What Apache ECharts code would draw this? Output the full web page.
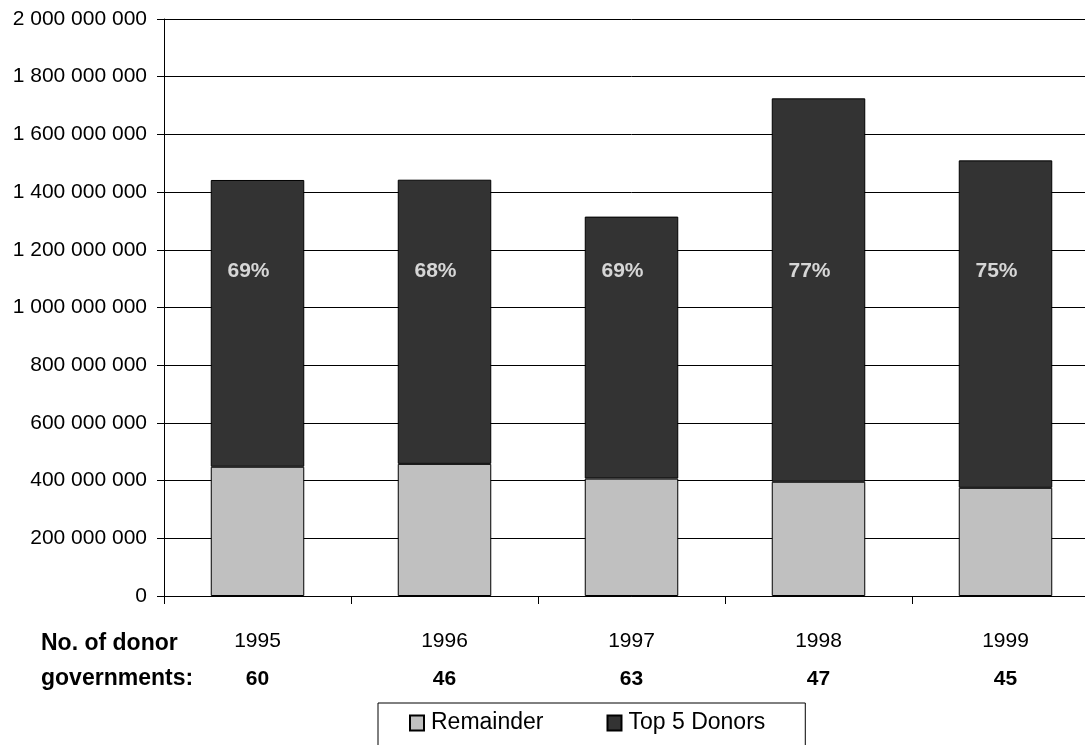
<!DOCTYPE html>
<html>
<head>
<meta charset="utf-8">
<script src="https://cdn.jsdelivr.net/npm/echarts@6/dist/echarts.min.js"></script>
<style>
  html, body { margin: 0; padding: 0; background: #fff; overflow: hidden; }
  /* the canvas is a bit wider than the page so the last category runs past the edge */
  #chart { width: 1099px; height: 745px; }
</style>
</head>
<body>
<div id="chart"></div>
<script>
// Contributions by year, split into the five largest donors and the rest
const years = ['1995', '1996', '1997', '1998', '1999'];
const donorCounts = [60, 46, 63, 47, 45];
const remainder = [448000000, 458000000, 407000000, 396000000, 375000000];
const top5 = [994000000, 985000000, 908000000, 1329000000, 1135000000];
const yTicks = { min: 0, max: 2000000000, interval: 200000000 };
const pctLabelLevel = 1127000000;

const FONT = '"Liberation Sans", Arial, sans-serif';

// share of the top five donors in each year's total
const shares = years.map((_, i) => Math.round(top5[i] / (top5[i] + remainder[i]) * 100) + '%');

function spaced(v) {
  return String(v).replace(/\B(?=(\d{3})+(?!\d))/g, ' ');
}

const chart = echarts.init(document.getElementById('chart'), null, { renderer: 'canvas' });

chart.setOption({
  animation: false,
  backgroundColor: '#ffffff',
  textStyle: { fontFamily: FONT },
  grid: { left: 164, top: 19, bottom: 149, right: 0, containLabel: false },
  legend: {
    data: ['Remainder', 'Top 5 Donors'],
    left: 378, top: 703,
    orient: 'horizontal',
    icon: 'rect',
    itemWidth: 14, itemHeight: 15, itemGap: 63,
    padding: [7, 40, 10, 31],
    borderColor: '#000', borderWidth: 1,
    textStyle: { fontFamily: FONT, fontSize: 23, lineHeight: 26, color: '#000', padding: [0, 0, 0, 2] }
  },
  xAxis: {
    type: 'category',
    data: years,
    boundaryGap: true,
    axisLine: { lineStyle: { color: '#000', width: 1 } },
    axisTick: { show: true, length: 8, lineStyle: { color: '#000' } },
    axisLabel: {
      margin: 26,
      formatter: (v, i) => '{y|' + v + '}\n{n|' + donorCounts[i] + '}',
      rich: {
        y: { fontFamily: FONT, fontSize: 21, color: '#000', lineHeight: 38 },
        n: { fontFamily: FONT, fontSize: 21, fontWeight: 'bold', color: '#000', lineHeight: 38 }
      }
    }
  },
  yAxis: {
    type: 'value',
    min: yTicks.min, max: yTicks.max, interval: yTicks.interval,
    axisLine: { show: true, lineStyle: { color: '#000', width: 1 } },
    axisTick: { show: true, length: 7, lineStyle: { color: '#000' } },
    splitLine: { show: true, lineStyle: { color: '#000', width: 1 } },
    axisLabel: {
      margin: 17,
      fontFamily: FONT, fontSize: 21, color: '#000',
      formatter: v => spaced(v)
    }
  },
  series: [
    {
      name: 'Remainder', type: 'bar', stack: 'total', barWidth: '50%',
      data: remainder,
      itemStyle: { color: '#c0c0c0', borderColor: '#000', borderWidth: 1 }
    },
    {
      name: 'Top 5 Donors', type: 'bar', stack: 'total', barWidth: '50%',
      data: top5,
      itemStyle: { color: '#333333', borderColor: '#000', borderWidth: 1 }
    },
    {
      name: 'share', type: 'scatter', silent: true, z: 10,
      symbolSize: 0,
      data: years.map(() => pctLabelLevel),
      label: {
        show: true, position: 'inside', offset: [-9, 0],
        formatter: p => shares[p.dataIndex],
        fontFamily: FONT, fontSize: 21, fontWeight: 'bold', color: '#fff'
      }
    }
  ],
  graphic: [
    {
      type: 'text', left: 41, top: 626,
      style: {
        text: 'No. of donor\ngovernments:',
        font: 'bold 23px ' + FONT,
        fill: '#000',
        lineHeight: 35
      }
    }
  ]
});
</script>
</body>
</html>
